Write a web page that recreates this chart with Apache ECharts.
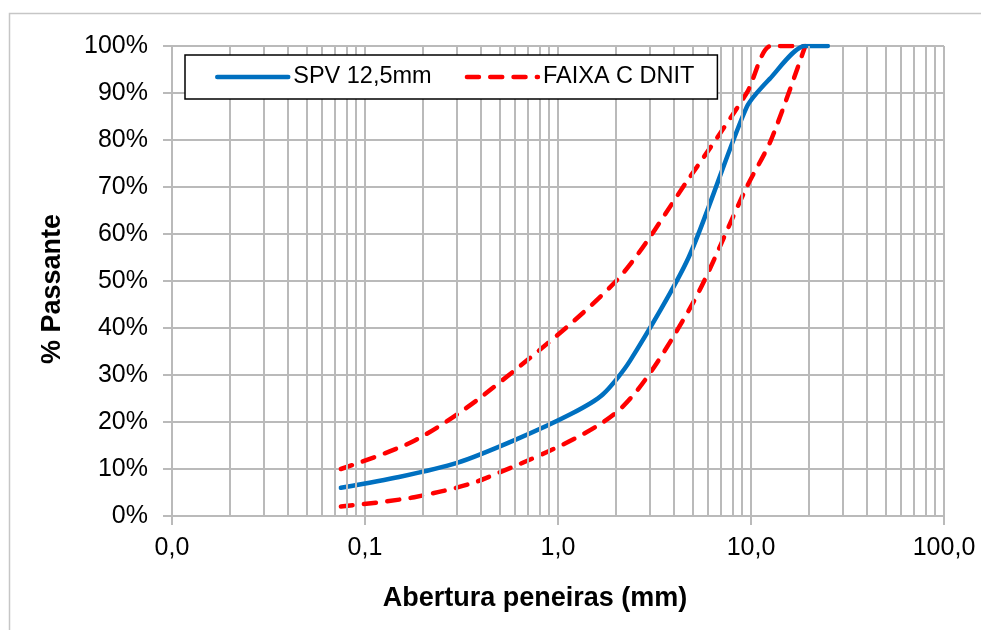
<!DOCTYPE html>
<html>
<head>
<meta charset="utf-8">
<script src="https://cdn.jsdelivr.net/npm/echarts@6/dist/echarts.min.js"></script>
<style>
  html, body { margin: 0; padding: 0; background: #ffffff; }
  #chart { width: 981px; height: 630px; }
</style>
</head>
<body>
<div id="chart"></div>
<script>
// Curva granulométrica da mistura SPV 12,5mm
const sieveSPV = [0.075, 0.15, 0.3, 0.6, 1.18, 1.7, 2.36, 4.75, 9.5, 12.5, 19, 25];
const passSPV  = [6.0, 8.3, 11.3, 16.2, 21.8, 25.8, 33, 55, 87, 93, 100, 100];

// Limites da Faixa C (DNIT)
const sieveFaixa = [0.075, 0.18, 0.42, 2.0, 4.8, 9.5, 12.7, 19.1];
const faixaMax   = [10, 16, 26, 50, 72, 90, 100, 100];
const faixaMin   = [2, 4, 8, 22, 44, 70, 80, 100];

const seriesNames = ['SPV 12,5mm', 'FAIXA C DNIT'];

// Linhas de grade secundárias da escala logarítmica (2 a 9 de cada década)
const decades = [0.01, 0.1, 1, 10];
const minorGrid = [];
decades.forEach(function (d) {
  for (let k = 2; k <= 9; k++) minorGrid.push(+(d * k).toPrecision(6));
});

const gridColor = '#bababa';
const font = '"Liberation Sans", Arial, sans-serif';

function pairs(xs, ys) { return xs.map(function (x, i) { return [x, ys[i]]; }); }

const chart = echarts.init(document.getElementById('chart'), null, { renderer: 'canvas' });

chart.setOption({
  animation: false,
  backgroundColor: '#ffffff',
  textStyle: { fontFamily: font, color: '#000' },
  graphic: [{
    type: 'rect',
    shape: { x: 9.5, y: 13.5, width: 1000, height: 1000 },
    style: { fill: 'none', stroke: '#c6c6c6', lineWidth: 1.5 },
    silent: true,
    z: -10
  }],
  grid: { left: 172, right: 37, top: 46, bottom: 114, containLabel: false },
  legend: {
    data: seriesNames,
    left: 185,
    top: 55,
    orient: 'horizontal',
    itemWidth: 71,
    itemHeight: 14,
    itemGap: 33,
    padding: [10, 23, 10, 30],
    borderColor: '#000',
    borderWidth: 1.5,
    backgroundColor: '#ffffff',
    itemStyle: { opacity: 0 },
    lineStyle: { width: 4.5, cap: 'round' },
    textStyle: { fontFamily: font, fontSize: 23.5, color: '#000' },
    z: 10
  },
  xAxis: {
    type: 'log',
    logBase: 10,
    min: 0.01,
    max: 100,
    name: 'Abertura peneiras (mm)',
    nameLocation: 'middle',
    nameGap: 69,
    nameTextStyle: { fontFamily: font, fontSize: 27, fontWeight: 'bold', color: '#000', padding: [0, 46, 0, 0] },
    axisLine: { show: true, lineStyle: { color: gridColor, width: 2 } },
    axisTick: { show: true, length: 9, inside: false, lineStyle: { color: gridColor, width: 2 } },
    axisLabel: {
      fontFamily: font, fontSize: 25, color: '#000', margin: 20,
      formatter: function (v) { return v.toFixed(1).replace('.', ','); }
    },
    splitLine: { show: true, lineStyle: { color: gridColor, width: 2 } }
  },
  yAxis: {
    type: 'value',
    min: 0,
    max: 100,
    interval: 10,
    name: '% Passante',
    nameLocation: 'middle',
    nameRotate: 90,
    nameGap: 106,
    nameTextStyle: { fontFamily: font, fontSize: 27, fontWeight: 'bold', color: '#000', padding: [0, 16, 0, 0] },
    axisLine: { show: true, lineStyle: { color: gridColor, width: 2 } },
    axisTick: { show: true, length: 9, inside: false, lineStyle: { color: gridColor, width: 2 } },
    axisLabel: { fontFamily: font, fontSize: 25, color: '#000', margin: 24, formatter: '{value}%' },
    splitLine: { show: true, lineStyle: { color: gridColor, width: 2 } }
  },
  series: [
    {
      name: 'grade',
      type: 'line',
      data: [],
      silent: true,
      z: 1,
      markLine: {
        silent: true,
        symbol: ['none', 'none'],
        label: { show: false },
        emphasis: { disabled: true },
        animation: false,
        lineStyle: { color: gridColor, width: 2, type: 'solid' },
        data: minorGrid.map(function (v) { return { xAxis: v }; })
      }
    },
    {
      name: seriesNames[0],
      type: 'line',
      data: pairs(sieveSPV, passSPV),
      smooth: 0.25,
      symbol: 'none',
      showSymbol: false,
      z: 4,
      lineStyle: { color: '#0070c0', width: 4.5, cap: 'round', join: 'round' },
      itemStyle: { color: '#0070c0' }
    },
    {
      name: seriesNames[1],
      type: 'line',
      data: pairs(sieveFaixa, faixaMax),
      smooth: 0.28,
      symbol: 'none',
      showSymbol: false,
      z: 3,
      lineStyle: { color: '#ff0000', width: 4.5, type: [12, 11.3], cap: 'round', join: 'round' },
      itemStyle: { color: '#ff0000' }
    },
    {
      name: seriesNames[1],
      type: 'line',
      data: pairs(sieveFaixa, faixaMin),
      smooth: 0.28,
      symbol: 'none',
      showSymbol: false,
      z: 3,
      lineStyle: { color: '#ff0000', width: 4.5, type: [12, 11.3], cap: 'round', join: 'round' },
      itemStyle: { color: '#ff0000' }
    }
  ]
});
</script>
</body>
</html>
